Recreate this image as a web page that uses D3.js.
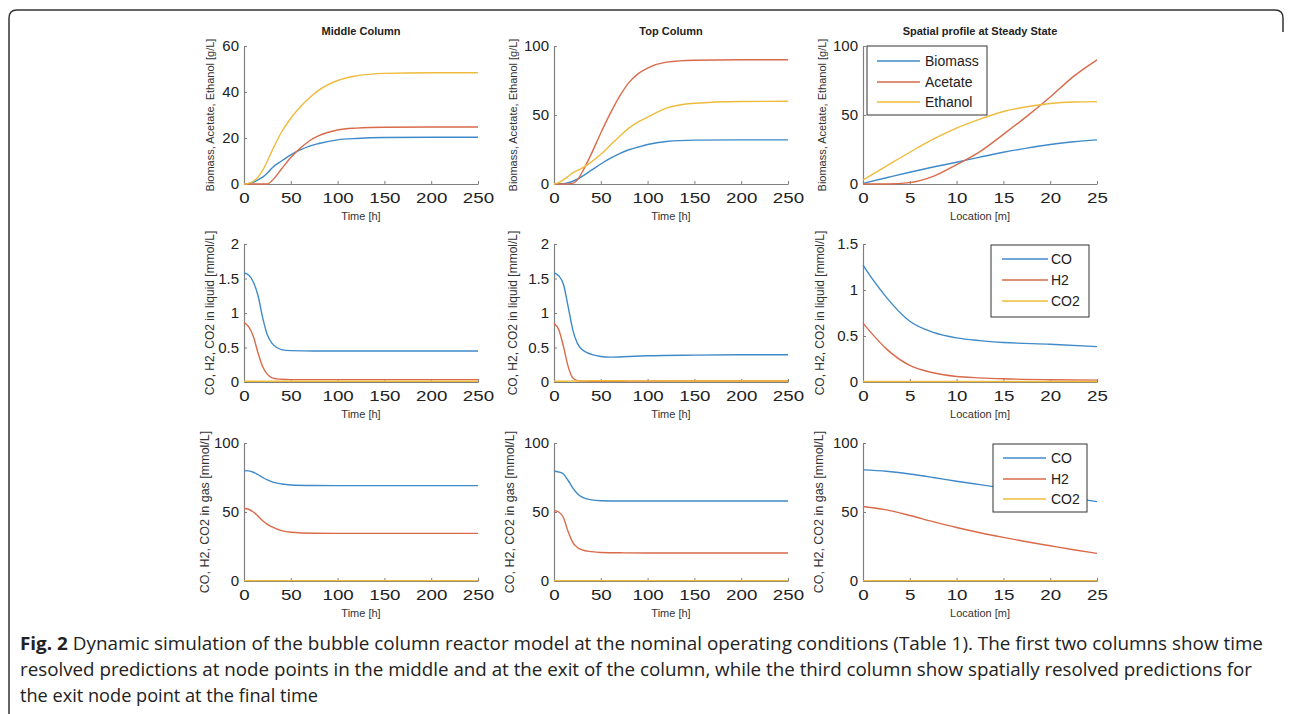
<!DOCTYPE html>
<html>
<head>
<meta charset="utf-8">
<script src="https://cdn.jsdelivr.net/npm/d3@7"></script>
<style>
  body { margin: 0; background: #fff; }
  text { font-family: "Liberation Sans", Arial, sans-serif; }
</style>
</head>
<body>
<div id="chart"></div>
<script>
// ---- data ----
var midTime = [0, 5, 10, 15, 20, 25, 30, 40, 50, 60, 70, 80, 100, 120, 150, 200, 250];
var midBiomass = [0, 0.2, 0.8, 1.8, 3, 4.8, 7, 10, 12.7, 14.8, 16.5, 17.6, 19.2, 19.8, 20.2, 20.3, 20.3];
var midAcetate = [0, 0, 0, 0, 0, 0, 1.5, 6.5, 11.5, 15.5, 18.8, 21, 23.5, 24.3, 24.7, 24.8, 24.8];
var midEthanol = [0, 0.3, 1.2, 3, 6, 10, 14.5, 22.5, 28.6, 33.5, 37.5, 40.8, 45, 47, 48.1, 48.4, 48.4];

var topTime = [0, 5, 10, 15, 20, 25, 30, 40, 50, 60, 70, 80, 90, 100, 120, 150, 200, 250];
var topBiomass = [0, 0.1, 0.3, 1, 2, 3.5, 5.5, 10, 14.5, 18.5, 22, 24.8, 26.8, 28.6, 30.8, 31.8, 32, 32];
var topAcetate = [0, 0, 0, 0.1, 0.5, 3, 8.5, 22, 37, 51, 63.5, 73.5, 80, 84, 88.3, 89.7, 90, 90];
var topEthanol = [0, 1, 3, 5.5, 8, 9.8, 11.5, 16, 21.5, 28, 34.5, 40.5, 45, 48.5, 55, 58.5, 59.8, 60];

var ssLoc = [0, 2.5, 5, 7.5, 10, 12.5, 15, 17.5, 20, 22.5, 25];
var ssBiomass = [0.5, 4.5, 8.5, 12.3, 15.8, 19.5, 23, 26, 28.6, 30.6, 32];
var ssAcetate = [0, 0, 1, 5.5, 14, 23.5, 36, 49, 63, 78, 90];
var ssEthanol = [3, 13, 23, 32.5, 40.5, 47, 52.5, 56, 58.3, 59.4, 59.7];

var midLiqTime = [0, 5, 10, 15, 20, 25, 30, 35, 40, 50, 75, 100, 150, 200, 250];
var midLiqCO = [1.58, 1.55, 1.45, 1.25, 0.93, 0.68, 0.56, 0.5, 0.47, 0.455, 0.45, 0.45, 0.45, 0.45, 0.45];
var midLiqH2 = [0.86, 0.8, 0.66, 0.42, 0.22, 0.11, 0.06, 0.045, 0.04, 0.035, 0.035, 0.035, 0.035, 0.035, 0.035];
var midLiqCO2 = [0.01, 0.01, 0.01, 0.01, 0.01, 0.01, 0.01, 0.01, 0.01, 0.01, 0.01, 0.01, 0.01, 0.01, 0.01];

var topLiqTime = [0, 5, 10, 15, 20, 25, 30, 40, 50, 60, 80, 100, 150, 200, 250];
var topLiqCO = [1.58, 1.54, 1.42, 1.1, 0.76, 0.56, 0.47, 0.4, 0.37, 0.36, 0.37, 0.38, 0.39, 0.395, 0.395];
var topLiqH2 = [0.85, 0.76, 0.52, 0.23, 0.06, 0.02, 0.012, 0.01, 0.01, 0.01, 0.012, 0.013, 0.015, 0.015, 0.015];
var topLiqCO2 = [0.01, 0.01, 0.01, 0.012, 0.014, 0.015, 0.016, 0.018, 0.018, 0.018, 0.017, 0.016, 0.015, 0.015, 0.015];

var ssLiqLoc = [0, 1, 2.5, 5, 7.5, 10, 12.5, 15, 20, 25];
var ssLiqCO = [1.27, 1.12, 0.92, 0.66, 0.54, 0.48, 0.45, 0.43, 0.41, 0.385];
var ssLiqH2 = [0.64, 0.52, 0.36, 0.18, 0.1, 0.06, 0.045, 0.035, 0.025, 0.02];
var ssLiqCO2 = [0.005, 0.005, 0.005, 0.005, 0.005, 0.005, 0.005, 0.005, 0.005, 0.005];

var midGasTime = [0, 5, 10, 15, 20, 25, 30, 40, 50, 75, 100, 150, 200, 250];
var midGasCO = [80, 79.8, 78.8, 77, 75, 73.2, 71.8, 70.3, 69.6, 69.2, 69.1, 69.1, 69.1, 69.1];
var midGasH2 = [52.5, 52, 50, 47, 43.7, 41, 39.2, 36.5, 35.3, 34.6, 34.5, 34.5, 34.5, 34.5];
var midGasCO2 = [0.3, 0.3, 0.3, 0.3, 0.3, 0.3, 0.3, 0.3, 0.3, 0.3, 0.3, 0.3, 0.3, 0.3];

var topGasTime = [0, 5, 10, 15, 20, 25, 30, 40, 50, 75, 100, 150, 200, 250];
var topGasCO = [79.5, 79, 77.5, 73, 67.5, 63.3, 60.8, 58.8, 58.2, 58, 58, 58, 58, 58];
var topGasH2 = [51, 50, 46, 36, 28, 24.3, 22.6, 21.3, 20.7, 20.4, 20.3, 20.3, 20.3, 20.3];
var topGasCO2 = [0.3, 0.3, 0.3, 0.3, 0.3, 0.3, 0.3, 0.3, 0.3, 0.3, 0.3, 0.3, 0.3, 0.3];

var ssGasLoc = [0, 2.5, 5, 7.5, 10, 12.5, 15, 17.5, 20, 22.5, 25];
var ssGasCO = [80.5, 79.5, 77.5, 75, 72.3, 69.8, 67.3, 64.8, 62.5, 60, 57.5];
var ssGasH2 = [54, 51.5, 47.5, 43, 38.8, 35, 31.6, 28.4, 25.5, 22.6, 20];
var ssGasCO2 = [0.3, 0.3, 0.3, 0.3, 0.3, 0.3, 0.3, 0.3, 0.3, 0.3, 0.3];

var timeTicks = [0, 50, 100, 150, 200, 250];
var locTicks = [0, 5, 10, 15, 20, 25];
var concLegend = ["Biomass", "Acetate", "Ethanol"];
var gasLegend = ["CO", "H2", "CO2"];
var titles = ["Middle Column", "Top Column", "Spatial profile at Steady State"];
var captionLines = [
  "Dynamic simulation of the bubble column reactor model at the nominal operating conditions (Table 1). The first two columns show time",
  "resolved predictions at node points in the middle and at the exit of the column, while the third column show spatially resolved predictions for",
  "the exit node point at the final time"
];

// ---- layout ----
const COLX = [244, 554, 863];
const ROWY = [46, 244, 443];
const PW = 234;
const PH = 138;
const COLORS = ["#3f8ac8", "#d96a4a", "#efbb3c"];
const YLAB_SIZE = ["11px", "12px", "12.5px"];

var panels = [
  {r: 0, c: 0, x: midTime, ys: [midBiomass, midAcetate, midEthanol], xmax: 250, ymax: 60, yt: [0, 20, 40, 60], xt: timeTicks, xl: "Time [h]", yl: "Biomass, Acetate, Ethanol [g/L]", lo: 34},
  {r: 0, c: 1, x: topTime, ys: [topBiomass, topAcetate, topEthanol], xmax: 250, ymax: 100, yt: [0, 50, 100], xt: timeTicks, xl: "Time [h]", yl: "Biomass, Acetate, Ethanol [g/L]", lo: 41},
  {r: 0, c: 2, x: ssLoc, ys: [ssBiomass, ssAcetate, ssEthanol], xmax: 25, ymax: 100, yt: [0, 50, 100], xt: locTicks, xl: "Location [m]", yl: "Biomass, Acetate, Ethanol [g/L]", lo: 41,
    legend: {names: concLegend, box: [867, 46, 120, 69], y: [61, 82, 102], lx: [877, 920], tx: 925}},
  {r: 1, c: 0, x: midLiqTime, ys: [midLiqCO, midLiqH2, midLiqCO2], xmax: 250, ymax: 2, yt: [0, 0.5, 1, 1.5, 2], xt: timeTicks, xl: "Time [h]", yl: "CO, H2, CO2 in liquid [mmol/L]", lo: 34},
  {r: 1, c: 1, x: topLiqTime, ys: [topLiqCO, topLiqH2, topLiqCO2], xmax: 250, ymax: 2, yt: [0, 0.5, 1, 1.5, 2], xt: timeTicks, xl: "Time [h]", yl: "CO, H2, CO2 in liquid [mmol/L]", lo: 41},
  {r: 1, c: 2, x: ssLiqLoc, ys: [ssLiqCO, ssLiqH2, ssLiqCO2], xmax: 25, ymax: 1.5, yt: [0, 0.5, 1, 1.5], xt: locTicks, xl: "Location [m]", yl: "CO, H2, CO2 in liquid [mmol/L]", lo: 43,
    legend: {names: gasLegend, box: [991, 245, 98, 72], y: [259, 280, 301], lx: [1002, 1048], tx: 1051}},
  {r: 2, c: 0, x: midGasTime, ys: [midGasCO, midGasH2, midGasCO2], xmax: 250, ymax: 100, yt: [0, 50, 100], xt: timeTicks, xl: "Time [h]", yl: "CO, H2, CO2 in gas [mmol/L]", lo: 39},
  {r: 2, c: 1, x: topGasTime, ys: [topGasCO, topGasH2, topGasCO2], xmax: 250, ymax: 100, yt: [0, 50, 100], xt: timeTicks, xl: "Time [h]", yl: "CO, H2, CO2 in gas [mmol/L]", lo: 44},
  {r: 2, c: 2, x: ssGasLoc, ys: [ssGasCO, ssGasH2, ssGasCO2], xmax: 25, ymax: 100, yt: [0, 50, 100], xt: locTicks, xl: "Location [m]", yl: "CO, H2, CO2 in gas [mmol/L]", lo: 44,
    legend: {names: gasLegend, box: [993, 444, 94, 68], y: [458, 479, 499], lx: [1003, 1046], tx: 1051}}
];

var svg = d3.select("#chart").append("svg")
    .attr("width", 1290)
    .attr("height", 714);

// outer frame
svg.append("path")
    .attr("d", "M9,714 V18 Q9,10 17,10 H1275 Q1283,10 1283,18 V32")
    .attr("fill", "none")
    .attr("stroke", "#333")
    .attr("stroke-width", 1.5);

var fmt = d3.format("~g");

panels.forEach(function (p) {
    var x0 = COLX[p.c], y0 = ROWY[p.r];
    var xs = d3.scaleLinear().domain([0, p.xmax]).range([x0, x0 + PW]);
    var ys = d3.scaleLinear().domain([0, p.ymax]).range([y0 + PH, y0]);

    var gx = svg.append("g")
        .attr("transform", "translate(0," + (y0 + PH) + ")")
        .call(d3.axisBottom(xs).tickValues(p.xt).tickFormat(fmt).tickSizeInner(-3).tickSizeOuter(0).tickPadding(8));
    var gy = svg.append("g")
        .attr("transform", "translate(" + x0 + ",0)")
        .call(d3.axisLeft(ys).tickValues(p.yt).tickFormat(fmt).tickSizeInner(-3).tickSizeOuter(0).tickPadding(5));
    [gx, gy].forEach(function (g) {
        g.select(".domain").attr("stroke", "#808080").attr("stroke-width", 1.2);
        g.selectAll(".tick line").attr("stroke", "#808080");
        g.selectAll(".tick text")
            .style("font-family", "'Liberation Sans', Arial, sans-serif")
            .style("font-size", "15px")
            .attr("fill", "#222");
    });
    // x tick labels in the source are drawn wider than normal
    gx.selectAll(".tick text").attr("transform", "scale(1.25,1)");

    var line = d3.line()
        .x(function (d) { return xs(d[0]); })
        .y(function (d) { return ys(d[1]); })
        .curve(d3.curveMonotoneX);

    p.ys.forEach(function (vals, i) {
        svg.append("path")
            .datum(d3.zip(p.x, vals))
            .attr("d", line)
            .attr("fill", "none")
            .attr("stroke", COLORS[i])
            .attr("stroke-width", 1.4);
    });

    svg.append("text")
        .attr("x", x0 + PW / 2)
        .attr("y", y0 + PH + 36)
        .attr("text-anchor", "middle")
        .style("font-size", "11px")
        .attr("fill", "#333")
        .text(p.xl);

    svg.append("text")
        .attr("transform", "translate(" + (x0 - p.lo) + "," + (y0 + PH / 2) + ") rotate(-90)")
        .attr("dy", "0.35em")
        .attr("text-anchor", "middle")
        .style("font-size", YLAB_SIZE[p.r])
        .attr("fill", "#333")
        .text(p.yl);

    if (p.r === 0) {
        svg.append("text")
            .attr("x", x0 + PW / 2)
            .attr("y", 35)
            .attr("text-anchor", "middle")
            .style("font-size", "11px")
            .style("font-weight", "bold")
            .attr("fill", "#222")
            .text(titles[p.c]);
    }

    if (p.legend) {
        var lg = p.legend;
        svg.append("rect")
            .attr("x", lg.box[0]).attr("y", lg.box[1])
            .attr("width", lg.box[2]).attr("height", lg.box[3])
            .attr("fill", "#fff")
            .attr("stroke", "#333")
            .attr("stroke-width", 1);
        lg.names.forEach(function (name, i) {
            svg.append("line")
                .attr("x1", lg.lx[0]).attr("x2", lg.lx[1])
                .attr("y1", lg.y[i]).attr("y2", lg.y[i])
                .attr("stroke", COLORS[i])
                .attr("stroke-width", 1.4);
            svg.append("text")
                .attr("x", lg.tx)
                .attr("y", lg.y[i])
                .attr("dy", "0.35em")
                .style("font-size", "14px")
                .attr("fill", "#222")
                .text(name);
        });
    }
});

// caption
var capY = [650, 676, 702];
var capEnd = [1263, 1252, 318];
captionLines.forEach(function (t, i) {
    var txt = svg.append("text")
        .attr("x", 20)
        .attr("y", capY[i])
        .attr("textLength", capEnd[i] - 20)
        .attr("lengthAdjust", "spacingAndGlyphs")
        .style("font-family", "'Open Sans', sans-serif")
        .style("font-size", "18px")
        .attr("fill", "#222");
    if (i === 0) {
        txt.append("tspan").style("font-weight", "bold").text("Fig. 2");
        txt.append("tspan").text(" " + t);
    } else {
        txt.text(t);
    }
});
</script>
</body>
</html>
